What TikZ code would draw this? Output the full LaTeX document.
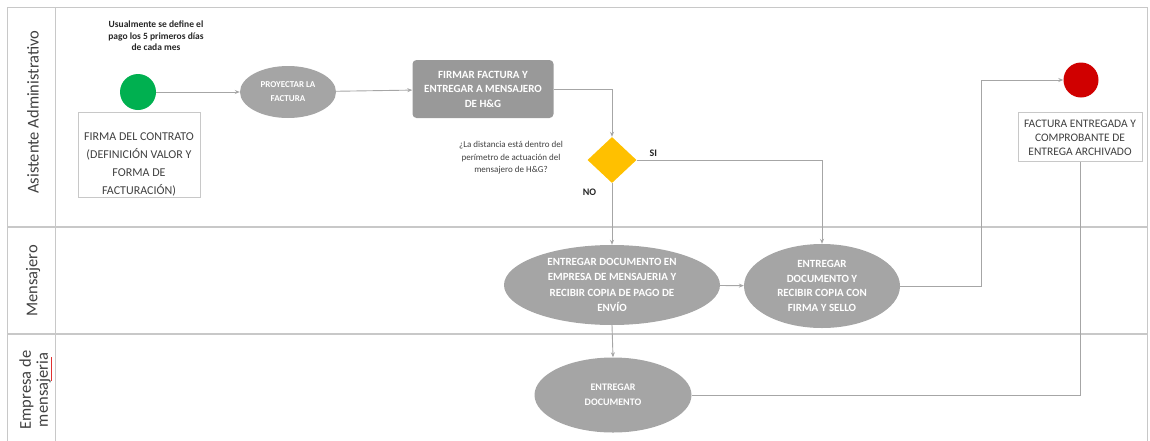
\documentclass[tikz,border=0pt]{standalone}
\usepackage{fontspec}
\setmainfont{Carlito}
\usetikzlibrary{shapes.geometric,arrows.meta}

\definecolor{lanegray}{HTML}{C8C8C8}
\definecolor{flowgray}{HTML}{A6A6A6}
\definecolor{actgray}{HTML}{A5A5A5}
\definecolor{rectgray}{HTML}{999999}
\definecolor{txtgray}{HTML}{404040}
\definecolor{startgreen}{HTML}{00B050}
\definecolor{endred}{HTML}{D00000}
\definecolor{decgold}{HTML}{FFC000}
\definecolor{spellred}{HTML}{E03030}

\tikzset{
  lane/.style={draw=lanegray, line width=1.6pt},
  laneinner/.style={draw=lanegray, line width=0.8pt},
  lanetitle/.style={rotate=90, font=\fontsize{16.5}{17}\selectfont, text=txtgray, align=center},
  flow/.style={draw=flowgray, line width=0.9pt, -{Stealth[length=5pt,width=4pt]}},
  plainflow/.style={draw=flowgray, line width=0.9pt},
  startev/.style={circle, fill=startgreen, minimum size=36pt, inner sep=0pt},
  endev/.style={circle, fill=endred, minimum size=35pt, inner sep=0pt},
  act/.style={ellipse, fill=actgray, text=white, align=center, inner sep=0pt,
              font=\bfseries\fontsize{8.5}{11}\selectfont},
  actrect/.style={rectangle, rounded corners=4pt, fill=rectgray, text=white, align=center,
              inner sep=0pt, font=\bfseries\fontsize{8.5}{11}\selectfont},
  dec/.style={diamond, fill=decgold, inner sep=0pt, minimum width=49pt, minimum height=46pt},
  framebox/.style={rectangle, draw=lanegray, line width=0.6pt, fill=white, inner sep=0pt},
  boxtext/.style={align=center, inner sep=0pt, text=txtgray, font=\fontsize{12}{18}\selectfont},
  note/.style={align=center, font=\bfseries\fontsize{9.5}{11.5}\selectfont, text=black!85},
  question/.style={align=center, font=\fontsize{9}{12.5}\selectfont, text=txtgray},
  branch/.style={font=\bfseries\fontsize{10}{12}\selectfont, text=black!85}
}

\begin{document}
\begin{tikzpicture}[x=1pt,y=-1pt]
\useasboundingbox (0,0) rectangle (1150,440);

% swimlanes
\draw[laneinner] (7,7) rectangle (1147,445);
\draw[lane] (7,227) -- (1147,227);
\draw[lane] (7,334) -- (1147,334);
\draw[laneinner] (55,7) -- (55,445);
\node[lanetitle] (lane1) at (33,112) {Asistente Administrativo};
\node[lanetitle] (lane2) at (33,281) {Mensajero};
\node[lanetitle] (lane3) at (35,390) {Empresa de\\mensajeria};
\draw[spellred, line width=0.6pt] (51,381) -- (51,357);

% start
\node[note] (nota) at (156,36) {Usualmente se define el\\pago los 5 primeros días\\de cada mes};
\node[startev] (ini) at (138,92) {};
\node[framebox, minimum width=122pt, minimum height=85pt] (firma) at (139,155) {};
\node[boxtext] (firmatxt) at (139,164)
  {FIRMA DEL CONTRATO\\(DEFINICIÓN VALOR Y\\FORMA DE\\FACTURACIÓN)};

% activities
\node[act, minimum width=96pt, minimum height=52pt, font=\bfseries\fontsize{9}{14}\selectfont] (proy) at (288,92)
  {PROYECTAR LA\\FACTURA};
\node[actrect, minimum width=141pt, minimum height=58pt, font=\bfseries\fontsize{11}{14.5}\selectfont] (fact) at (483,89)
  {FIRMAR FACTURA Y\\ENTREGAR A MENSAJERO\\DE H\&G};
\node[dec] (dec) at (612,160) {};
\node[question] (preg) at (511,158) {¿La distancia está dentro del\\perímetro de actuación del\\mensajero de H\&G?};
\node[act, minimum width=216pt, minimum height=80pt, font=\bfseries\fontsize{11}{15.5}\selectfont] (ment) at (612,285)
  {ENTREGAR DOCUMENTO EN\\EMPRESA DE MENSAJERIA Y\\RECIBIR COPIA DE PAGO DE\\ENVÍO};
\node[act, minimum width=156pt, minimum height=84pt, font=\bfseries\fontsize{11}{14.5}\selectfont] (entr) at (822,286)
  {ENTREGAR\\DOCUMENTO Y\\RECIBIR COPIA CON\\FIRMA Y SELLO};
\node[act, minimum width=157pt, minimum height=75pt, font=\bfseries\fontsize{10}{15}\selectfont] (emp) at (613,395)
  {ENTREGAR\\DOCUMENTO};

% end
\node[endev] (fin) at (1081,80) {};
\node[framebox, minimum width=124pt, minimum height=49pt] (finbox) at (1080,137) {};
\node[boxtext, font=\fontsize{11.5}{14}\selectfont] (finboxtxt) at (1080,138)
  {FACTURA ENTREGADA Y\\COMPROBANTE DE\\ENTREGA ARCHIVADO};

% connectors
\coordinate (up) at (981,286);
\draw[flow] (ini) -- (proy);
\draw[flow] (proy) -- (fact);
\draw[flow] (fact.east) -| (dec.north);
\draw[flow] (dec.east) -| (entr.north) node[branch, pos=0.045, above] (si) {SI};
\draw[flow] (dec.south) -- (ment.north) node[branch, pos=0.15, left=12pt] (no) {NO};
\draw[flow] (ment) -- (entr);
\draw[flow] (entr.east) -- (up) |- (fin.west);
\draw[flow] (ment.south) -- (emp.north);
\draw[plainflow] (emp.east) -| (finbox.south);
\end{tikzpicture}
\end{document}
